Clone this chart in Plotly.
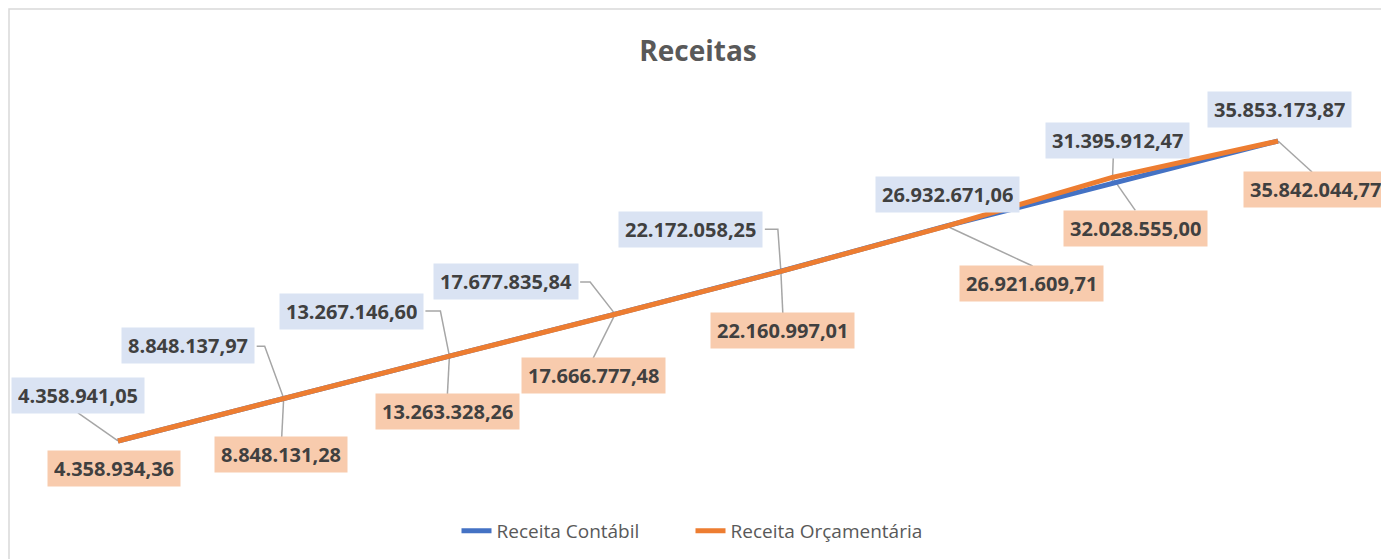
import plotly.graph_objects as go

# ---------------- data ----------------
categories = ["1", "2", "3", "4", "5", "6", "7", "8"]
receita_contabil = [4358941.05, 8848137.97, 13267146.60, 17677835.84,
                    22172058.25, 26932671.06, 31395912.47, 35853173.87]
receita_orcamentaria = [4358934.36, 8848131.28, 13263328.26, 17666777.48,
                        22160997.01, 26921609.71, 32028555.00, 35842044.77]
series_names = ["Receita Contábil", "Receita Orçamentária"]

# ---------------- layout constants (pixels) ----------------
W, H = 1381, 559
X_LEFT, X_RIGHT = 35.1, 1360.9
Y_BOTTOM, Y_TOP = 482.5, 101.46
Y_RANGE = (0, 40e6)
X_RANGE = (-0.5, len(categories) - 0.5)
px_per_cat = (X_RIGHT - X_LEFT) / (X_RANGE[1] - X_RANGE[0])
px_per_val = (Y_BOTTOM - Y_TOP) / (Y_RANGE[1] - Y_RANGE[0])

BLUE = "#4472C4"
ORANGE = "#ED7D31"
BLUE_BOX = "#DAE3F3"
ORANGE_BOX = "#F8CBAD"
LEADER = "#A6A6A6"

# label centre offsets from the point (dx right, dy down), pixels
blue_label_off = [(-40, -45), (-96, -53), (-98, -45), (-109, -33),
                  (-90, -42), (1, -31), (5, -43), (1, -31)]
orange_label_off = [(-4, 28), (-3, 56), (-2, 55), (-22, 61),
                    (2, 59), (85, 57), (23, 51), (37, 48)]

# leader paths as pixel offsets from the point
blue_leaders = {
    0: [(-40, -28), (0, 0)],
    1: [(-27, -52), (-19, -52), (0, 0)],
    2: [(-24, -45), (-9, -45), (0, 0)],
    3: [(-35, -32), (-25, -32), (0, 0)],
    4: [(-16, -42), (-3, -42), (0, 0)],
    6: [(1, -27), (0, 0)],
}
orange_leaders = {
    1: [(0, 0), (-2, 39)],
    2: [(0, 0), (-2, 38)],
    3: [(0, 0), (-22, 44)],
    4: [(0, 0), (2, 43)],
    5: [(0, 0), (86, 40)],
    6: [(0, 0), (23, 33)],
    7: [(0, 0), (34, 31)],
}


def fmt_br(v):
    s = f"{v:,.2f}"
    return s.replace(",", "X").replace(".", ",").replace("X", ".")


xs = list(range(len(categories)))

fig = go.Figure()

# leader lines (below series)
lx, ly = [], []
for leaders, vals in ((blue_leaders, receita_contabil), (orange_leaders, receita_orcamentaria)):
    for i, path in leaders.items():
        for dx, dy in path:
            lx.append(xs[i] + dx / px_per_cat)
            ly.append(vals[i] - dy / px_per_val)
        lx.append(None)
        ly.append(None)
fig.add_trace(go.Scatter(x=lx, y=ly, mode="lines", line=dict(color=LEADER, width=1.5),
                         hoverinfo="skip", showlegend=False))

fig.add_trace(go.Scatter(x=xs, y=receita_contabil, mode="lines", name=series_names[0],
                         line=dict(color=BLUE, width=5)))
fig.add_trace(go.Scatter(x=xs, y=receita_orcamentaria, mode="lines", name=series_names[1],
                         line=dict(color=ORANGE, width=5)))

annotations = []
for vals, offs, box in ((receita_contabil, blue_label_off, BLUE_BOX),
                        (receita_orcamentaria, orange_label_off, ORANGE_BOX)):
    for i, v in enumerate(vals):
        dx, dy = offs[i]
        annotations.append(dict(
            x=xs[i], y=v, xref="x", yref="y", xshift=dx, yshift=-dy,
            text="<b>" + fmt_br(v) + "</b>", showarrow=False,
            xanchor="center", yanchor="middle",
            bgcolor=box, borderpad=6, height=23,
            font=dict(family="Open Sans", size=20, color="#404040"),
        ))

fig.update_layout(
    width=W, height=H,
    margin=dict(l=0, r=0, t=0, b=0),
    paper_bgcolor="white", plot_bgcolor="white",
    title=dict(text="<b>Receitas</b>", x=698 / W, xanchor="center",
               y=1 - 51 / H, yanchor="middle",
               font=dict(family="Open Sans", size=28, color="#595959")),
    xaxis=dict(visible=False, range=list(X_RANGE),
               domain=[X_LEFT / W, X_RIGHT / W], fixedrange=True),
    yaxis=dict(visible=False, range=list(Y_RANGE),
               domain=[1 - Y_BOTTOM / H, 1 - Y_TOP / H], fixedrange=True),
    legend=dict(orientation="h", x=0.5, xanchor="center", y=1 - 531 / H, yanchor="middle",
                font=dict(family="Open Sans", size=19, color="#595959"),
                bgcolor="rgba(0,0,0,0)", entrywidth=189, entrywidthmode="pixels"),
    annotations=annotations,
    shapes=[dict(type="rect", xref="paper", yref="paper",
                 x0=9 / W, x1=1.02, y0=-0.02, y1=1 - 9 / H,
                 line=dict(color="#D9D9D9", width=1.5), layer="below")],
)

fig.write_html("out.html", config={"displayModeBar": False},
               post_script="document.body.style.margin='0';document.body.style.overflow='hidden';")
